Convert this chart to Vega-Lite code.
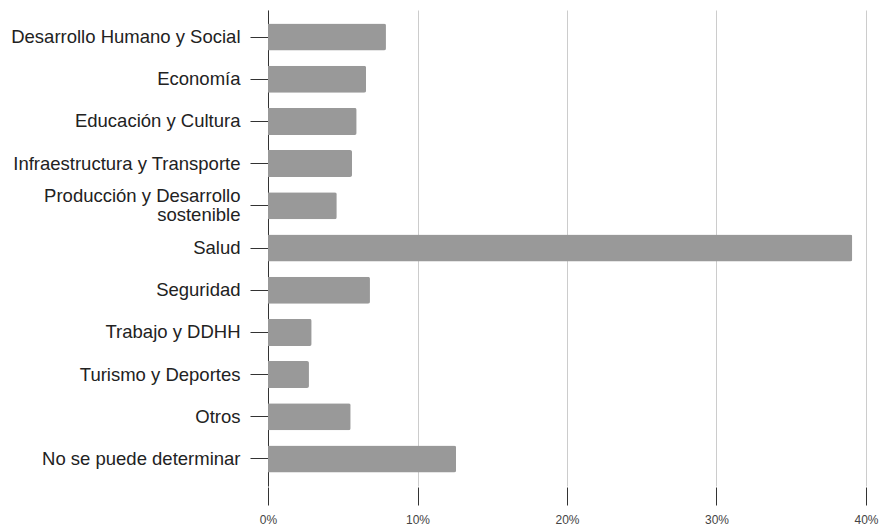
{
  "$schema": "https://vega.github.io/schema/vega-lite/v6.json",
  "autosize": "none",
  "width": 598,
  "height": 476,
  "padding": {"left": 268, "top": 10, "right": 18, "bottom": 41},
  "background": "white",
  "data": {"values": [
    {"categoria": "Desarrollo Humano y Social", "pct": 0.0789},
    {"categoria": "Economía", "pct": 0.0656},
    {"categoria": "Educación y Cultura", "pct": 0.0593},
    {"categoria": "Infraestructura y Transporte", "pct": 0.0562},
    {"categoria": "Producción y Desarrollo sostenible", "pct": 0.046},
    {"categoria": "Salud", "pct": 0.3908},
    {"categoria": "Seguridad", "pct": 0.0682},
    {"categoria": "Trabajo y DDHH", "pct": 0.0292},
    {"categoria": "Turismo y Deportes", "pct": 0.0274},
    {"categoria": "Otros", "pct": 0.0553},
    {"categoria": "No se puede determinar", "pct": 0.1258}
  ]},
  "mark": {"type": "bar", "color": "#999999", "cornerRadiusEnd": 2},
  "encoding": {
    "y": {
      "field": "categoria", "type": "nominal", "sort": null,
      "scale": {"paddingInner": 0.36, "paddingOuter": 0.32},
      "axis": {
        "title": null,
        "domainColor": "#333333", "domainWidth": 1,
        "tickColor": "#333333", "tickSize": 18, "tickWidth": 1,
        "labelFont": "Liberation Sans", "labelFontSize": 18.5, "labelColor": "#222222",
        "labelPadding": 10, "labelLimit": 300, "labelLineHeight": 19,
        "labelOffset": {"condition": {"test": "datum.value == 'Producción y Desarrollo sostenible'", "value": -9.5}, "value": 0},
        "labelExpr": "datum.value == 'Producción y Desarrollo sostenible' ? ['Producción y Desarrollo', 'sostenible'] : datum.value"
      }
    },
    "x": {
      "field": "pct", "type": "quantitative",
      "scale": {"domain": [0, 0.4], "nice": false},
      "axis": {
        "title": null, "format": ".0%", "values": [0, 0.1, 0.2, 0.3, 0.4],
        "domain": false, "offset": 1,
        "grid": true, "gridColor": "#cccccc", "gridWidth": 1,
        "tickColor": "#333333", "tickSize": 18, "tickWidth": 1,
        "labelFont": "Liberation Sans", "labelFontSize": 12, "labelColor": "#444444",
        "labelPadding": 9, "labelFlush": false
      }
    }
  },
  "config": {"view": {"stroke": null}}
}
